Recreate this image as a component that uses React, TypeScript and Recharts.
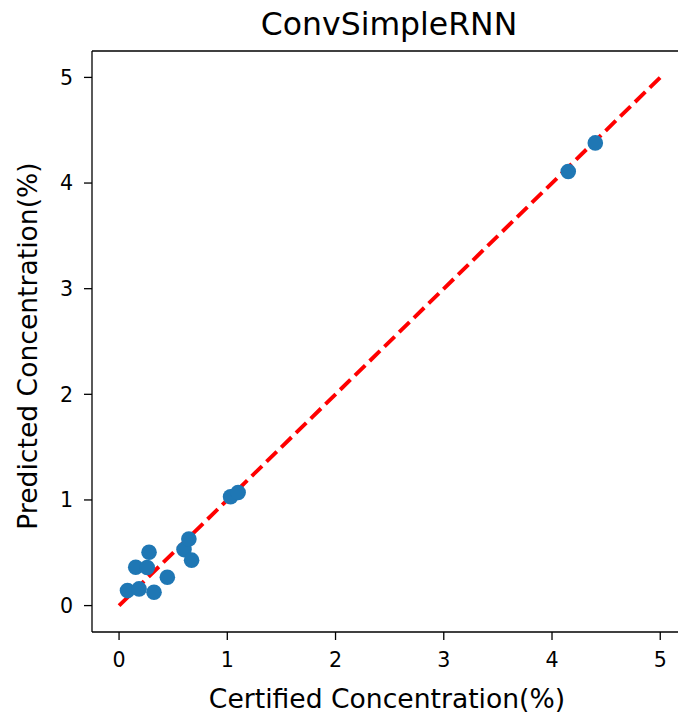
import { ScatterChart, Scatter, XAxis, YAxis, ReferenceLine } from 'recharts'

// certified vs predicted concentration (%)
const certified = [0.078, 0.185, 0.154, 0.277, 0.26, 0.323, 0.446, 0.6, 0.645, 0.67, 1.03, 1.1, 4.15, 4.4]
const predicted = [0.142, 0.158, 0.363, 0.505, 0.36, 0.126, 0.268, 0.53, 0.63, 0.43, 1.03, 1.07, 4.11, 4.38]
const idealLine = [0, 5]
const ticks = [0, 1, 2, 3, 4, 5]

const points = certified.map((x, i) => ({ x, y: predicted[i] }))

const font = 'DejaVu Sans, sans-serif'
const W = 678
const H = 721

export default function App() {
  return (
    <div style={{ position: 'absolute', left: 0, top: 0, width: W, height: H, background: '#fff', overflow: 'hidden' }}>
      <ScatterChart width={W} height={H} margin={{ top: 51, right: 0, left: 0, bottom: 0 }}>
        <XAxis
          type="number"
          dataKey="x"
          domain={[-0.25, 5.164]}
          ticks={ticks}
          allowDataOverflow
          height={89}
          tickSize={8}
          tickMargin={12}
          axisLine={{ stroke: '#000', strokeWidth: 1.3 }}
          tickLine={{ stroke: '#000', strokeWidth: 1.3 }}
          tick={{ fill: '#000', fontSize: 20.6, fontFamily: font }}
        />
        <YAxis
          type="number"
          dataKey="y"
          domain={[-0.25, 5.25]}
          ticks={ticks}
          allowDataOverflow
          width={92}
          tickSize={8}
          tickMargin={11}
          axisLine={{ stroke: '#000', strokeWidth: 1.3 }}
          tickLine={{ stroke: '#000', strokeWidth: 1.3 }}
          tick={{ fill: '#000', fontSize: 20.6, fontFamily: font }}
        />
        <ReferenceLine y={5.25} stroke="#000" strokeWidth={1.3} />
        <Scatter data={points} fill="#1f77b4" isAnimationActive={false} shape={(p: any) => <circle cx={p.cx} cy={p.cy} r={7.8} fill="#1f77b4" />} />
        <ReferenceLine
          segment={[{ x: idealLine[0], y: idealLine[0] }, { x: idealLine[1], y: idealLine[1] }]}
          stroke="#ff0000"
          strokeWidth={3.9}
          strokeDasharray="14.4 6.2"
        />
      </ScatterChart>
      <svg width={W} height={H} style={{ position: 'absolute', left: 0, top: 0, pointerEvents: 'none' }}>
        <text x={389} y={35} textAnchor="middle" fontSize={31.5} fontFamily={font} fill="#000">ConvSimpleRNN</text>
        <text x={387} y={708} textAnchor="middle" fontSize={26.6} fontFamily={font} fill="#000">Certified Concentration(%)</text>
        <text x={37} y={346} textAnchor="middle" fontSize={26.6} fontFamily={font} fill="#000" transform="rotate(-90 37 346)">Predicted Concentration(%)</text>
      </svg>
    </div>
  )
}
